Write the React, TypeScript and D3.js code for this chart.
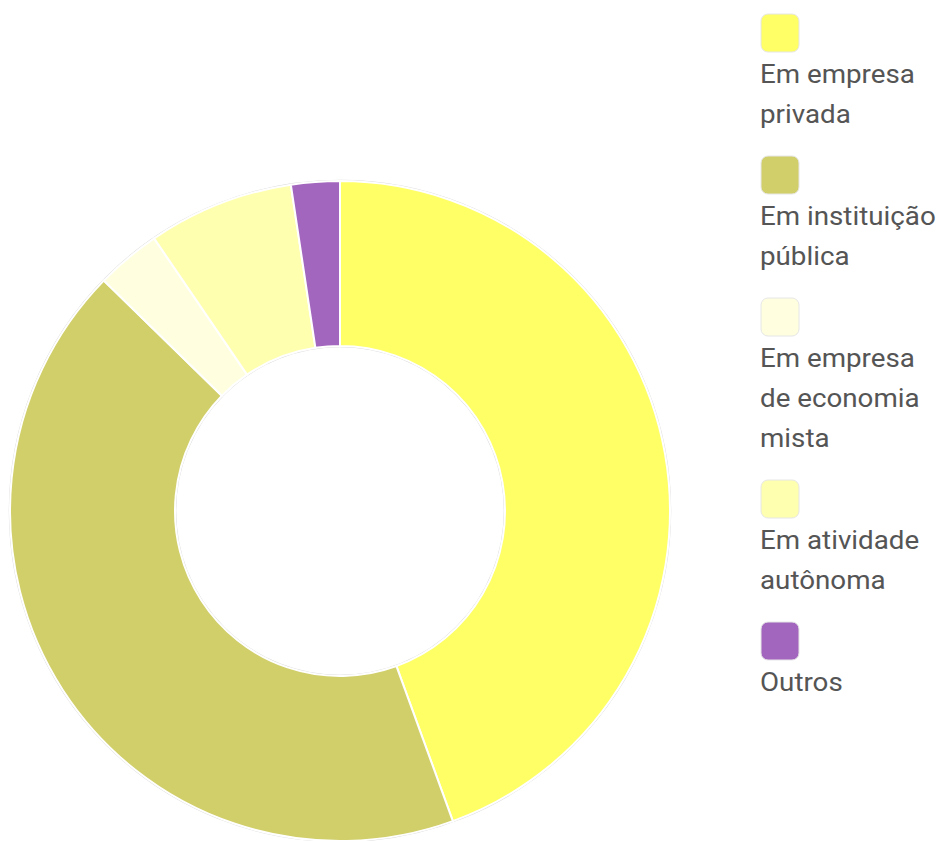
import { useEffect, useRef } from "react"
import * as d3 from "d3"

const categories = [
  ["Em empresa", "privada"],
  ["Em instituição", "pública"],
  ["Em empresa", "de economia", "mista"],
  ["Em atividade", "autônoma"],
  ["Outros"],
]
const counts = [56, 54, 4, 9, 3]
const colors = ["#ffff66", "#d1cf6a", "#ffffe0", "#ffffb0", "#a366be"]

export default function App() {
  const svgRef = useRef<SVGSVGElement>(null)

  useEffect(() => {
    if (!svgRef.current) return
    const svg = d3.select(svgRef.current)
    svg.selectAll("*").remove()

    const cx = 340
    const cy = 511
    const outer = 330
    const inner = 165

    const g = svg.append("g").attr("transform", `translate(${cx},${cy})`)

    // faint outline around the ring
    g.append("circle").attr("r", outer + 0.5).attr("fill", "none").attr("stroke", "#d8d8d8").attr("stroke-width", 1.5)
    g.append("circle").attr("r", inner - 0.5).attr("fill", "none").attr("stroke", "#d8d8d8").attr("stroke-width", 1.5)

    const data = counts.map((v, i) => ({ value: v, i }))
    const pie = d3.pie<{ value: number; i: number }>().sort(null).value((d) => d.value)
    const arc = d3.arc<d3.PieArcDatum<{ value: number; i: number }>>().innerRadius(inner).outerRadius(outer)

    g.selectAll("path.slice")
      .data(pie(data))
      .join("path")
      .attr("class", "slice")
      .attr("d", arc)
      .attr("fill", (d) => colors[d.data.i])
      .attr("stroke", "#ffffff")
      .attr("stroke-width", 2)

    // legend
    const legend = svg.append("g").attr("transform", "translate(761,14)")
    let y = 0
    categories.forEach((lines, i) => {
      legend
        .append("rect")
        .attr("x", 0)
        .attr("y", y)
        .attr("width", 38)
        .attr("height", 38)
        .attr("rx", 7)
        .attr("fill", colors[i])
        .attr("stroke", "#e6e6e6")
        .attr("stroke-width", 1)
      lines.forEach((t, j) => {
        legend
          .append("text")
          .attr("transform", `translate(-1,${y + 69 + j * 40}) scale(1.11,1)`)
          .attr("font-family", "Roboto, sans-serif")
          .attr("font-size", 25)
          .attr("fill", "#555555")
          .text(t)
      })
      y += 38 + lines.length * 40 + 24
    })
  }, [])

  return (
    <svg
      ref={svgRef}
      width={940}
      height={841}
      style={{ position: "absolute", left: 0, top: 0, background: "#ffffff" }}
    />
  )
}
